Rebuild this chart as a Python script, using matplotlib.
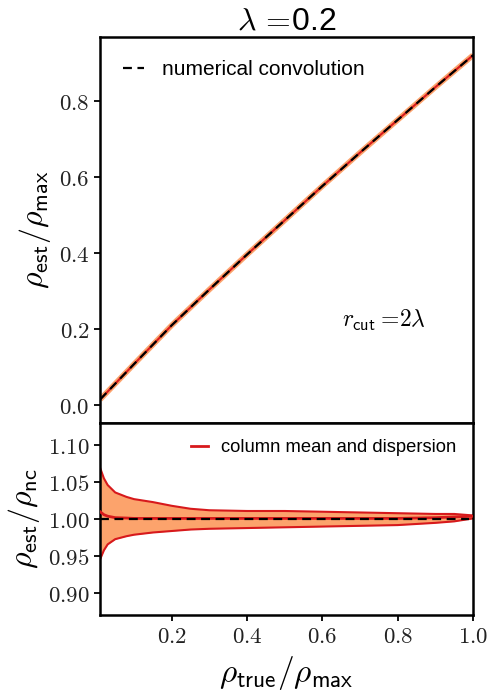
import matplotlib
matplotlib.use("Agg")
import matplotlib.pyplot as plt
from matplotlib.ticker import FixedLocator, FuncFormatter

plt.rcParams['font.family'] = ['Liberation Sans', 'DejaVu Sans']
plt.rcParams['mathtext.fontset'] = 'cm'

# ---- data ----
x_line = [0.01, 0.1, 0.2, 0.3, 0.4, 0.5, 0.6, 0.7, 0.8, 0.9, 1.0]
y_nc = [0.015, 0.108, 0.210, 0.304, 0.396, 0.486, 0.576, 0.664, 0.750, 0.836, 0.920]

x_ratio = [0.01, 0.02, 0.03, 0.05, 0.08, 0.1, 0.15, 0.2, 0.25, 0.3, 0.4, 0.5,
           0.6, 0.7, 0.8, 0.9, 0.95, 1.0]
ratio_upper = [1.069, 1.055, 1.046, 1.036, 1.030, 1.027, 1.023, 1.018, 1.014, 1.012,
               1.011, 1.011, 1.010, 1.009, 1.008, 1.007, 1.007, 1.005]
ratio_lower = [0.946, 0.958, 0.966, 0.973, 0.977, 0.979, 0.982, 0.984, 0.986, 0.987,
               0.988, 0.989, 0.990, 0.991, 0.992, 0.995, 0.997, 1.001]
ratio_mean = [1.010, 1.006, 1.004, 1.002, 1.0015, 1.001, 1.001, 1.001, 1.001, 1.001,
              1.001, 1.001, 1.001, 1.001, 1.001, 1.002, 1.003, 1.004]
ratio_nc = [1.0, 1.0]
x_nc_ratio = [0.01, 0.99]

top_ticks = [0.0, 0.2, 0.4, 0.6, 0.8]
bot_ticks = [0.90, 0.95, 1.00, 1.05, 1.10]
x_ticks = [0.2, 0.4, 0.6, 0.8, 1.0]

ORANGE = '#fca36c'
RED = '#d7191c'

fig = plt.figure(figsize=(4.88, 6.93), dpi=100)
W, H = 488, 693
ax1 = fig.add_axes([100 / W, 1 - 423 / H, 373 / W, 386 / H])
ax2 = fig.add_axes([100 / W, 1 - 615 / H, 373 / W, 192 / H], sharex=ax1)

# top panel
ax1.plot(x_line, y_nc, color=ORANGE, lw=4, solid_capstyle='butt', zorder=1)
ax1.plot(x_line, y_nc, color=RED, lw=1.5, zorder=2)
ax1.plot(x_line, y_nc, color='black', lw=1.6, ls='--', dashes=(4, 2.5), zorder=3,
         label='numerical convolution')
ax1.set_ylim(-0.047, 0.968)
ax1.yaxis.set_major_locator(FixedLocator(top_ticks))
ax1.yaxis.set_major_formatter(FuncFormatter(lambda v, p: r'$%.1f$' % v))
ax1.set_ylabel(r'$\rho_{\mathsf{est}}/\rho_{\mathsf{max}}$', fontsize=23, labelpad=4)
ax1.legend(loc='upper left', frameon=False, fontsize=15, handlelength=1.0,
           borderaxespad=0.7, handletextpad=0.9)
ax1.text(0.65, 0.25, r'$r_{\mathsf{cut}}=\!2\lambda$', transform=ax1.transAxes,
         fontsize=17)
ax1.set_title(r'$\lambda\,=\!$' + '0.2', fontsize=23, pad=5)

# bottom panel
ax2.fill_between(x_ratio, ratio_lower, ratio_upper, color=ORANGE, lw=0, zorder=1)
ax2.plot(x_ratio, ratio_upper, color=RED, lw=1.5, zorder=2)
ax2.plot(x_ratio, ratio_lower, color=RED, lw=1.5, zorder=2)
ax2.plot(x_ratio, ratio_mean, color=RED, lw=2.0, zorder=3,
         label='column mean and dispersion')
ax2.plot(x_nc_ratio, ratio_nc, color='black', lw=1.6, ls='--', dashes=(4, 2.5), zorder=4)
ax2.set_ylim(0.8707, 1.1297)
ax2.set_xlim(0.0096, 1.0)
ax2.yaxis.set_major_locator(FixedLocator(bot_ticks))
ax2.yaxis.set_major_formatter(FuncFormatter(lambda v, p: r'$%.2f$' % v))
ax2.xaxis.set_major_locator(FixedLocator(x_ticks))
ax2.xaxis.set_major_formatter(FuncFormatter(lambda v, p: r'$%.1f$' % v))
ax2.set_ylabel(r'$\rho_{\mathsf{est}}/\rho_{\mathsf{nc}}$', fontsize=23, labelpad=4)
ax2.set_xlabel(r'$\rho_{\mathsf{true}}/\rho_{\mathsf{max}}$', fontsize=24, labelpad=4)
ax2.legend(loc='upper right', frameon=False, fontsize=13.2, handlelength=0.9,
           borderaxespad=0.5, handletextpad=0.75)

for ax in (ax1, ax2):
    ax.tick_params(axis='both', labelsize=16.5, width=1.3, length=4, direction='out',
                   colors='black', labelcolor='#222222')
    for s in ax.spines.values():
        s.set_linewidth(1.8)
ax1.tick_params(axis='x', length=0, labelbottom=False)

fig.savefig('out.png', dpi=100)
